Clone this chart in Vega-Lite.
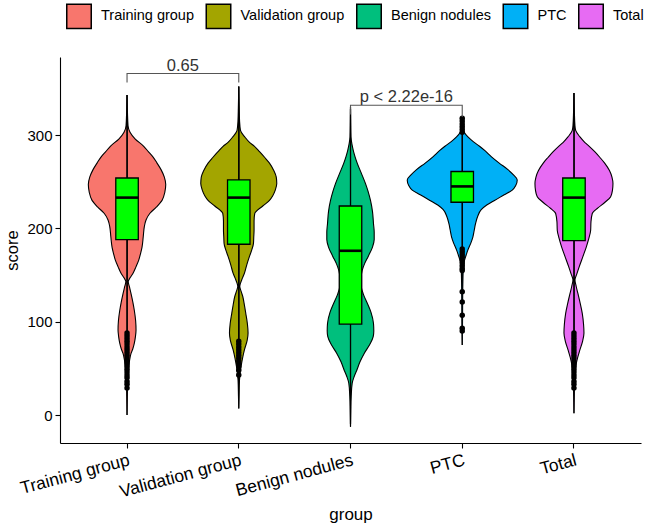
{
  "$schema": "https://vega.github.io/schema/vega-lite/v6.json",
  "width": 581,
  "height": 386,
  "autosize": {"type": "none"},
  "padding": {"left": 60, "top": 57, "right": 5, "bottom": 85},
  "background": "white",
  "datasets": {
    "violin": [
      {"group": "Training group", "score": 343, "density": 0},
      {"group": "Training group", "score": 325, "density": 0.00012},
      {"group": "Training group", "score": 310, "density": 0.0003},
      {"group": "Training group", "score": 303, "density": 0.0009},
      {"group": "Training group", "score": 296, "density": 0.0024},
      {"group": "Training group", "score": 288, "density": 0.00501},
      {"group": "Training group", "score": 282, "density": 0.00645},
      {"group": "Training group", "score": 277, "density": 0.00771},
      {"group": "Training group", "score": 270, "density": 0.009},
      {"group": "Training group", "score": 263, "density": 0.0102},
      {"group": "Training group", "score": 255, "density": 0.01119},
      {"group": "Training group", "score": 247, "density": 0.01161},
      {"group": "Training group", "score": 239, "density": 0.01134},
      {"group": "Training group", "score": 230, "density": 0.0105},
      {"group": "Training group", "score": 223, "density": 0.00885},
      {"group": "Training group", "score": 216, "density": 0.00681},
      {"group": "Training group", "score": 209, "density": 0.0057},
      {"group": "Training group", "score": 202, "density": 0.00519},
      {"group": "Training group", "score": 191, "density": 0.00486},
      {"group": "Training group", "score": 180, "density": 0.0045},
      {"group": "Training group", "score": 173, "density": 0.00405},
      {"group": "Training group", "score": 166, "density": 0.00351},
      {"group": "Training group", "score": 159, "density": 0.0027},
      {"group": "Training group", "score": 152, "density": 0.0018},
      {"group": "Training group", "score": 147, "density": 0.0009},
      {"group": "Training group", "score": 143, "density": 0.00036},
      {"group": "Training group", "score": 137, "density": 0.00075},
      {"group": "Training group", "score": 130, "density": 0.0012},
      {"group": "Training group", "score": 121, "density": 0.00174},
      {"group": "Training group", "score": 112, "density": 0.00219},
      {"group": "Training group", "score": 101, "density": 0.00258},
      {"group": "Training group", "score": 91, "density": 0.0027},
      {"group": "Training group", "score": 84, "density": 0.00252},
      {"group": "Training group", "score": 77, "density": 0.00219},
      {"group": "Training group", "score": 71, "density": 0.00174},
      {"group": "Training group", "score": 66, "density": 0.0012},
      {"group": "Training group", "score": 59, "density": 0.00078},
      {"group": "Training group", "score": 52, "density": 0.00051},
      {"group": "Training group", "score": 45, "density": 0.00033},
      {"group": "Training group", "score": 37, "density": 0.00021},
      {"group": "Training group", "score": 20, "density": 0.00009},
      {"group": "Training group", "score": 0, "density": 0},

      {"group": "Validation group", "score": 352, "density": 0},
      {"group": "Validation group", "score": 330, "density": 0.00012},
      {"group": "Validation group", "score": 315, "density": 0.00024},
      {"group": "Validation group", "score": 305, "density": 0.00051},
      {"group": "Validation group", "score": 298, "density": 0.0018},
      {"group": "Validation group", "score": 292, "density": 0.0033},
      {"group": "Validation group", "score": 288, "density": 0.00471},
      {"group": "Validation group", "score": 282, "density": 0.0063},
      {"group": "Validation group", "score": 276, "density": 0.0078},
      {"group": "Validation group", "score": 270, "density": 0.00921},
      {"group": "Validation group", "score": 262, "density": 0.0105},
      {"group": "Validation group", "score": 255, "density": 0.01125},
      {"group": "Validation group", "score": 248, "density": 0.0114},
      {"group": "Validation group", "score": 241, "density": 0.01095},
      {"group": "Validation group", "score": 235, "density": 0.0102},
      {"group": "Validation group", "score": 230, "density": 0.00921},
      {"group": "Validation group", "score": 224, "density": 0.0072},
      {"group": "Validation group", "score": 216, "density": 0.0048},
      {"group": "Validation group", "score": 208, "density": 0.00459},
      {"group": "Validation group", "score": 198, "density": 0.00459},
      {"group": "Validation group", "score": 191, "density": 0.0045},
      {"group": "Validation group", "score": 184, "density": 0.00441},
      {"group": "Validation group", "score": 177, "density": 0.0039},
      {"group": "Validation group", "score": 170, "density": 0.00321},
      {"group": "Validation group", "score": 161, "density": 0.0024},
      {"group": "Validation group", "score": 152, "density": 0.00171},
      {"group": "Validation group", "score": 145, "density": 0.0009},
      {"group": "Validation group", "score": 138, "density": 0.0003},
      {"group": "Validation group", "score": 133, "density": 0.00066},
      {"group": "Validation group", "score": 127, "density": 0.0012},
      {"group": "Validation group", "score": 118, "density": 0.00168},
      {"group": "Validation group", "score": 109, "density": 0.0021},
      {"group": "Validation group", "score": 98, "density": 0.00258},
      {"group": "Validation group", "score": 88, "density": 0.00279},
      {"group": "Validation group", "score": 80, "density": 0.00252},
      {"group": "Validation group", "score": 70, "density": 0.00171},
      {"group": "Validation group", "score": 61, "density": 0.00114},
      {"group": "Validation group", "score": 52, "density": 0.00069},
      {"group": "Validation group", "score": 45, "density": 0.00042},
      {"group": "Validation group", "score": 37, "density": 0.00021},
      {"group": "Validation group", "score": 20, "density": 0.00009},
      {"group": "Validation group", "score": 7, "density": 0},

      {"group": "Benign nodules", "score": 330, "density": 0},
      {"group": "Benign nodules", "score": 315, "density": 0.00006},
      {"group": "Benign nodules", "score": 298, "density": 0.00015},
      {"group": "Benign nodules", "score": 290, "density": 0.00045},
      {"group": "Benign nodules", "score": 284, "density": 0.00081},
      {"group": "Benign nodules", "score": 277, "density": 0.00135},
      {"group": "Benign nodules", "score": 270, "density": 0.00201},
      {"group": "Benign nodules", "score": 260, "density": 0.00315},
      {"group": "Benign nodules", "score": 248, "density": 0.0045},
      {"group": "Benign nodules", "score": 240, "density": 0.00525},
      {"group": "Benign nodules", "score": 230, "density": 0.006},
      {"group": "Benign nodules", "score": 218, "density": 0.0066},
      {"group": "Benign nodules", "score": 205, "density": 0.0069},
      {"group": "Benign nodules", "score": 196, "density": 0.00711},
      {"group": "Benign nodules", "score": 188, "density": 0.00711},
      {"group": "Benign nodules", "score": 180, "density": 0.0066},
      {"group": "Benign nodules", "score": 170, "density": 0.00531},
      {"group": "Benign nodules", "score": 162, "density": 0.0042},
      {"group": "Benign nodules", "score": 155, "density": 0.00351},
      {"group": "Benign nodules", "score": 146, "density": 0.00315},
      {"group": "Benign nodules", "score": 138, "density": 0.00321},
      {"group": "Benign nodules", "score": 129, "density": 0.0039},
      {"group": "Benign nodules", "score": 120, "density": 0.00501},
      {"group": "Benign nodules", "score": 110, "density": 0.00615},
      {"group": "Benign nodules", "score": 98, "density": 0.0069},
      {"group": "Benign nodules", "score": 90, "density": 0.00699},
      {"group": "Benign nodules", "score": 84, "density": 0.00681},
      {"group": "Benign nodules", "score": 76, "density": 0.00585},
      {"group": "Benign nodules", "score": 66, "density": 0.00411},
      {"group": "Benign nodules", "score": 57, "density": 0.00285},
      {"group": "Benign nodules", "score": 48, "density": 0.00189},
      {"group": "Benign nodules", "score": 41, "density": 0.00108},
      {"group": "Benign nodules", "score": 34, "density": 0.00051},
      {"group": "Benign nodules", "score": 20, "density": 0.00021},
      {"group": "Benign nodules", "score": 5, "density": 0.00009},
      {"group": "Benign nodules", "score": -12.5, "density": 0},

      {"group": "PTC", "score": 320, "density": 0},
      {"group": "PTC", "score": 309, "density": 0.00015},
      {"group": "PTC", "score": 303, "density": 0.0006},
      {"group": "PTC", "score": 298, "density": 0.00171},
      {"group": "PTC", "score": 293, "density": 0.0033},
      {"group": "PTC", "score": 288, "density": 0.00519},
      {"group": "PTC", "score": 283, "density": 0.0069},
      {"group": "PTC", "score": 277, "density": 0.0087},
      {"group": "PTC", "score": 270, "density": 0.0111},
      {"group": "PTC", "score": 263, "density": 0.01371},
      {"group": "PTC", "score": 257, "density": 0.01545},
      {"group": "PTC", "score": 252, "density": 0.0165},
      {"group": "PTC", "score": 246, "density": 0.01605},
      {"group": "PTC", "score": 241, "density": 0.015},
      {"group": "PTC", "score": 236, "density": 0.0126},
      {"group": "PTC", "score": 230, "density": 0.00969},
      {"group": "PTC", "score": 225, "density": 0.00735},
      {"group": "PTC", "score": 220, "density": 0.0057},
      {"group": "PTC", "score": 213, "density": 0.00465},
      {"group": "PTC", "score": 205, "density": 0.00399},
      {"group": "PTC", "score": 198, "density": 0.0036},
      {"group": "PTC", "score": 191, "density": 0.00321},
      {"group": "PTC", "score": 184, "density": 0.00255},
      {"group": "PTC", "score": 177, "density": 0.00171},
      {"group": "PTC", "score": 171, "density": 0.00114},
      {"group": "PTC", "score": 166, "density": 0.00069},
      {"group": "PTC", "score": 160, "density": 0.00042},
      {"group": "PTC", "score": 155, "density": 0.0003},
      {"group": "PTC", "score": 140, "density": 0.00018},
      {"group": "PTC", "score": 120, "density": 0.00012},
      {"group": "PTC", "score": 100, "density": 0.00009},
      {"group": "PTC", "score": 75, "density": 0},

      {"group": "Total", "score": 345, "density": 0},
      {"group": "Total", "score": 325, "density": 0.00012},
      {"group": "Total", "score": 310, "density": 0.0003},
      {"group": "Total", "score": 305, "density": 0.00051},
      {"group": "Total", "score": 298, "density": 0.0018},
      {"group": "Total", "score": 292, "density": 0.0033},
      {"group": "Total", "score": 288, "density": 0.00459},
      {"group": "Total", "score": 282, "density": 0.0063},
      {"group": "Total", "score": 276, "density": 0.0078},
      {"group": "Total", "score": 270, "density": 0.00921},
      {"group": "Total", "score": 262, "density": 0.01065},
      {"group": "Total", "score": 255, "density": 0.0114},
      {"group": "Total", "score": 248, "density": 0.0117},
      {"group": "Total", "score": 241, "density": 0.01155},
      {"group": "Total", "score": 234, "density": 0.01101},
      {"group": "Total", "score": 228, "density": 0.0093},
      {"group": "Total", "score": 222, "density": 0.0072},
      {"group": "Total", "score": 216, "density": 0.00549},
      {"group": "Total", "score": 207, "density": 0.0051},
      {"group": "Total", "score": 198, "density": 0.00501},
      {"group": "Total", "score": 189, "density": 0.00444},
      {"group": "Total", "score": 180, "density": 0.00369},
      {"group": "Total", "score": 170, "density": 0.0027},
      {"group": "Total", "score": 159, "density": 0.00159},
      {"group": "Total", "score": 151, "density": 0.00084},
      {"group": "Total", "score": 145, "density": 0.0003},
      {"group": "Total", "score": 138, "density": 0.00066},
      {"group": "Total", "score": 130, "density": 0.0012},
      {"group": "Total", "score": 120, "density": 0.00186},
      {"group": "Total", "score": 109, "density": 0.00249},
      {"group": "Total", "score": 97, "density": 0.00288},
      {"group": "Total", "score": 88, "density": 0.003},
      {"group": "Total", "score": 79, "density": 0.00258},
      {"group": "Total", "score": 70, "density": 0.0018},
      {"group": "Total", "score": 62, "density": 0.00114},
      {"group": "Total", "score": 55, "density": 0.00069},
      {"group": "Total", "score": 46, "density": 0.00039},
      {"group": "Total", "score": 37, "density": 0.00021},
      {"group": "Total", "score": 20, "density": 0.00009},
      {"group": "Total", "score": 2, "density": 0}
    ],
    "boxes": [
      {"group": "Training group", "lo": 90, "q1": 188, "median": 233, "q3": 254, "hi": 343},
      {"group": "Validation group", "lo": 80, "q1": 183, "median": 233, "q3": 252, "hi": 352},
      {"group": "Benign nodules", "lo": -10, "q1": 97.5, "median": 176, "q3": 224, "hi": 328},
      {"group": "PTC", "lo": 178, "q1": 228, "median": 245, "q3": 261, "hi": 302},
      {"group": "Total", "lo": 90, "q1": 187, "median": 233, "q3": 254, "hi": 345}
    ],
    "outliers": [
      {"group": "Training group", "score": 88}, {"group": "Training group", "score": 85},
      {"group": "Training group", "score": 82}, {"group": "Training group", "score": 79},
      {"group": "Training group", "score": 76}, {"group": "Training group", "score": 73},
      {"group": "Training group", "score": 70}, {"group": "Training group", "score": 67},
      {"group": "Training group", "score": 64}, {"group": "Training group", "score": 61},
      {"group": "Training group", "score": 58}, {"group": "Training group", "score": 55},
      {"group": "Training group", "score": 52}, {"group": "Training group", "score": 49},
      {"group": "Training group", "score": 46}, {"group": "Training group", "score": 43},
      {"group": "Training group", "score": 40}, {"group": "Training group", "score": 36},
      {"group": "Training group", "score": 33}, {"group": "Training group", "score": 29},
      {"group": "Validation group", "score": 79}, {"group": "Validation group", "score": 76},
      {"group": "Validation group", "score": 73}, {"group": "Validation group", "score": 70},
      {"group": "Validation group", "score": 67}, {"group": "Validation group", "score": 64},
      {"group": "Validation group", "score": 61}, {"group": "Validation group", "score": 58},
      {"group": "Validation group", "score": 55}, {"group": "Validation group", "score": 52},
      {"group": "Validation group", "score": 48}, {"group": "Validation group", "score": 43},
      {"group": "PTC", "score": 318}, {"group": "PTC", "score": 315}, {"group": "PTC", "score": 312},
      {"group": "PTC", "score": 309}, {"group": "PTC", "score": 306}, {"group": "PTC", "score": 303},
      {"group": "PTC", "score": 178}, {"group": "PTC", "score": 175}, {"group": "PTC", "score": 172},
      {"group": "PTC", "score": 169}, {"group": "PTC", "score": 166}, {"group": "PTC", "score": 163},
      {"group": "PTC", "score": 160}, {"group": "PTC", "score": 157}, {"group": "PTC", "score": 155},
      {"group": "PTC", "score": 132}, {"group": "PTC", "score": 121}, {"group": "PTC", "score": 107},
      {"group": "PTC", "score": 93}, {"group": "PTC", "score": 90},
      {"group": "Total", "score": 88}, {"group": "Total", "score": 85}, {"group": "Total", "score": 82},
      {"group": "Total", "score": 79}, {"group": "Total", "score": 76}, {"group": "Total", "score": 73},
      {"group": "Total", "score": 70}, {"group": "Total", "score": 67}, {"group": "Total", "score": 64},
      {"group": "Total", "score": 61}, {"group": "Total", "score": 58}, {"group": "Total", "score": 55},
      {"group": "Total", "score": 52}, {"group": "Total", "score": 49}, {"group": "Total", "score": 46},
      {"group": "Total", "score": 43}, {"group": "Total", "score": 40}, {"group": "Total", "score": 36},
      {"group": "Total", "score": 33}, {"group": "Total", "score": 29}
    ],
    "brackets": [
      {"bracket": "a", "step": 1, "group": "Training group", "score": 356.5},
      {"bracket": "a", "step": 2, "group": "Training group", "score": 366},
      {"bracket": "a", "step": 3, "group": "Validation group", "score": 366},
      {"bracket": "a", "step": 4, "group": "Validation group", "score": 356.5},
      {"bracket": "b", "step": 1, "group": "Benign nodules", "score": 322},
      {"bracket": "b", "step": 2, "group": "Benign nodules", "score": 332},
      {"bracket": "b", "step": 3, "group": "PTC", "score": 332},
      {"bracket": "b", "step": 4, "group": "PTC", "score": 319.5}
    ],
    "pvalues": [
      {"group": "Validation group", "score": 368.5, "label": "0.65"},
      {"group": "PTC", "score": 335.5, "label": "p < 2.22e-16"}
    ]
  },
  "layer": [
    {
      "description": "Training group, right half of the violin",
      "data": {"name": "violin"},
      "transform": [{"filter": "datum.group === 'Training group'"}],
      "mark": {"type": "area", "orient": "horizontal", "interpolate": "monotone", "stroke": "black", "strokeWidth": 1.1},
      "encoding": {
        "x": {"field": "density", "type": "quantitative", "stack": null, "axis": null,
              "scale": {"domain": [-0.0201115, 0.1541885], "nice": false, "zero": false}},
        "x2": {"datum": 0},
        "y": {"field": "score", "type": "quantitative", "title": "score",
              "scale": {"domain": [-30, 383.7], "nice": false, "zero": false},
              "axis": {"values": [0, 100, 200, 300], "tickSize": 5, "labelPadding": 3, "titlePadding": 6}},
        "color": {
          "field": "group", "type": "nominal", "title": null,
          "scale": {
            "domain": ["Training group", "Validation group", "Benign nodules", "PTC", "Total"],
            "range": ["#F8766D", "#A3A500", "#00BF7D", "#00B0F6", "#E76BF3"]
          },
          "legend": {
            "orient": "none",
            "legendX": 6,
            "legendY": -54,
            "direction": "horizontal",
            "columns": 5,
            "symbolType": "square",
            "symbolSize": 600,
            "symbolOpacity": 1,
            "labelFontSize": 14.5,
            "labelColor": "black",
            "labelFont": "Liberation Sans",
            "labelOffset": 9,
            "columnPadding": 8.5,
            "padding": 0,
            "encode": {"symbols": {"update": {"stroke": {"value": "black"}, "strokeWidth": {"value": 1.3}}}}
          }
        }
      }
    },
    {
      "description": "Training group, left half of the violin",
      "data": {"name": "violin"},
      "transform": [{"filter": "datum.group === 'Training group'"}],
      "mark": {"type": "area", "orient": "horizontal", "interpolate": "monotone", "stroke": "black", "strokeWidth": 1.1},
      "encoding": {
        "x": {"field": "density", "type": "quantitative", "stack": null, "axis": null,
              "scale": {"domain": [-0.1541885, 0.0201115], "nice": false, "zero": false, "reverse": true}},
        "x2": {"datum": 0},
        "y": {"field": "score", "type": "quantitative", "title": "score"},
        "color": {"field": "group", "type": "nominal", "title": null}
      }
    },
    {
      "description": "Validation group, right half",
      "data": {"name": "violin"},
      "transform": [{"filter": "datum.group === 'Validation group'"}],
      "mark": {"type": "area", "orient": "horizontal", "interpolate": "monotone", "stroke": "black", "strokeWidth": 1.1},
      "encoding": {
        "x": {"field": "density", "type": "quantitative", "stack": null, "axis": null,
              "scale": {"domain": [-0.0536308, 0.1206692], "nice": false, "zero": false}},
        "x2": {"datum": 0},
        "y": {"field": "score", "type": "quantitative", "title": "score"},
        "color": {"field": "group", "type": "nominal", "title": null}
      }
    },
    {
      "description": "Validation group, left half",
      "data": {"name": "violin"},
      "transform": [{"filter": "datum.group === 'Validation group'"}],
      "mark": {"type": "area", "orient": "horizontal", "interpolate": "monotone", "stroke": "black", "strokeWidth": 1.1},
      "encoding": {
        "x": {"field": "density", "type": "quantitative", "stack": null, "axis": null,
              "scale": {"domain": [-0.1206692, 0.0536308], "nice": false, "zero": false, "reverse": true}},
        "x2": {"datum": 0},
        "y": {"field": "score", "type": "quantitative", "title": "score"},
        "color": {"field": "group", "type": "nominal", "title": null}
      }
    },
    {
      "description": "Benign nodules, right half",
      "data": {"name": "violin"},
      "transform": [{"filter": "datum.group === 'Benign nodules'"}],
      "mark": {"type": "area", "orient": "horizontal", "interpolate": "monotone", "stroke": "black", "strokeWidth": 1.1},
      "encoding": {
        "x": {"field": "density", "type": "quantitative", "stack": null, "axis": null,
              "scale": {"domain": [-0.08715, 0.08715], "nice": false, "zero": false}},
        "x2": {"datum": 0},
        "y": {"field": "score", "type": "quantitative", "title": "score"},
        "color": {"field": "group", "type": "nominal", "title": null}
      }
    },
    {
      "description": "Benign nodules, left half",
      "data": {"name": "violin"},
      "transform": [{"filter": "datum.group === 'Benign nodules'"}],
      "mark": {"type": "area", "orient": "horizontal", "interpolate": "monotone", "stroke": "black", "strokeWidth": 1.1},
      "encoding": {
        "x": {"field": "density", "type": "quantitative", "stack": null, "axis": null,
              "scale": {"domain": [-0.08715, 0.08715], "nice": false, "zero": false, "reverse": true}},
        "x2": {"datum": 0},
        "y": {"field": "score", "type": "quantitative", "title": "score"},
        "color": {"field": "group", "type": "nominal", "title": null}
      }
    },
    {
      "description": "PTC, right half",
      "data": {"name": "violin"},
      "transform": [{"filter": "datum.group === 'PTC'"}],
      "mark": {"type": "area", "orient": "horizontal", "interpolate": "monotone", "stroke": "black", "strokeWidth": 1.1},
      "encoding": {
        "x": {"field": "density", "type": "quantitative", "stack": null, "axis": null,
              "scale": {"domain": [-0.1206692, 0.0536308], "nice": false, "zero": false}},
        "x2": {"datum": 0},
        "y": {"field": "score", "type": "quantitative", "title": "score"},
        "color": {"field": "group", "type": "nominal", "title": null}
      }
    },
    {
      "description": "PTC, left half",
      "data": {"name": "violin"},
      "transform": [{"filter": "datum.group === 'PTC'"}],
      "mark": {"type": "area", "orient": "horizontal", "interpolate": "monotone", "stroke": "black", "strokeWidth": 1.1},
      "encoding": {
        "x": {"field": "density", "type": "quantitative", "stack": null, "axis": null,
              "scale": {"domain": [-0.0536308, 0.1206692], "nice": false, "zero": false, "reverse": true}},
        "x2": {"datum": 0},
        "y": {"field": "score", "type": "quantitative", "title": "score"},
        "color": {"field": "group", "type": "nominal", "title": null}
      }
    },
    {
      "description": "Total, right half",
      "data": {"name": "violin"},
      "transform": [{"filter": "datum.group === 'Total'"}],
      "mark": {"type": "area", "orient": "horizontal", "interpolate": "monotone", "stroke": "black", "strokeWidth": 1.1},
      "encoding": {
        "x": {"field": "density", "type": "quantitative", "stack": null, "axis": null,
              "scale": {"domain": [-0.1541885, 0.0201115], "nice": false, "zero": false}},
        "x2": {"datum": 0},
        "y": {"field": "score", "type": "quantitative", "title": "score"},
        "color": {"field": "group", "type": "nominal", "title": null}
      }
    },
    {
      "description": "Total, left half",
      "data": {"name": "violin"},
      "transform": [{"filter": "datum.group === 'Total'"}],
      "mark": {"type": "area", "orient": "horizontal", "interpolate": "monotone", "stroke": "black", "strokeWidth": 1.1},
      "encoding": {
        "x": {"field": "density", "type": "quantitative", "stack": null, "axis": null,
              "scale": {"domain": [-0.0201115, 0.1541885], "nice": false, "zero": false, "reverse": true}},
        "x2": {"datum": 0},
        "y": {"field": "score", "type": "quantitative", "title": "score"},
        "color": {"field": "group", "type": "nominal", "title": null}
      }
    },
    {
      "description": "Boxplots, outliers and significance brackets on the group axis",
      "encoding": {
        "x": {
          "field": "group",
          "type": "nominal",
          "title": "group",
          "scale": {
            "type": "band",
            "domain": ["Training group", "Validation group", "Benign nodules", "PTC", "Total"],
            "paddingInner": 0,
            "paddingOuter": 0.1
          },
          "axis": {
            "orient": "bottom",
            "labelAngle": -15,
            "labelAlign": "right",
            "labelBaseline": "top",
            "labelPadding": 3,
            "labelFontSize": 17.5,
            "labelOverlap": false,
            "tickSize": 5,
            "titleFontSize": 17,
            "titlePadding": 6
          }
        }
      },
      "layer": [
        {
          "data": {"name": "boxes"},
          "mark": {"type": "rule", "color": "black", "strokeWidth": 1.2},
          "encoding": {
            "y": {"field": "lo", "type": "quantitative", "title": "score"},
            "y2": {"field": "hi"}
          }
        },
        {
          "data": {"name": "boxes"},
          "mark": {"type": "bar", "width": 22.5, "fill": "#00FF00", "stroke": "black", "strokeWidth": 1.3},
          "encoding": {
            "y": {"field": "q1", "type": "quantitative", "title": "score"},
            "y2": {"field": "q3"}
          }
        },
        {
          "data": {"name": "boxes"},
          "mark": {"type": "tick", "size": 22.5, "thickness": 2.6, "color": "black", "opacity": 1},
          "encoding": {
            "y": {"field": "median", "type": "quantitative", "title": "score"}
          }
        },
        {
          "data": {"name": "outliers"},
          "mark": {"type": "circle", "size": 30, "color": "black", "opacity": 1},
          "encoding": {
            "y": {"field": "score", "type": "quantitative", "title": "score"}
          }
        },
        {
          "data": {"name": "brackets"},
          "mark": {"type": "line", "color": "#555555", "strokeWidth": 1.1},
          "encoding": {
            "y": {"field": "score", "type": "quantitative", "title": "score"},
            "detail": {"field": "bracket"},
            "order": {"field": "step", "type": "quantitative"}
          }
        },
        {
          "data": {"name": "pvalues"},
          "mark": {"type": "text", "fontSize": 16.5, "color": "#333333", "font": "Liberation Sans", "align": "center", "baseline": "alphabetic"},
          "encoding": {
            "x": {"field": "group", "type": "nominal", "bandPosition": 0},
            "y": {"field": "score", "type": "quantitative", "title": "score"},
            "text": {"field": "label"}
          }
        }
      ]
    }
  ],
  "resolve": {"scale": {"x": "independent"}, "axis": {"x": "independent"}},
  "config": {
    "view": {"stroke": null},
    "font": "Liberation Sans",
    "axis": {
      "grid": false,
      "domainColor": "black",
      "domainWidth": 1.1,
      "tickColor": "black",
      "tickWidth": 1.1,
      "labelColor": "black",
      "labelFont": "Liberation Sans",
      "labelFontSize": 15,
      "titleColor": "black",
      "titleFont": "Liberation Sans",
      "titleFontSize": 16.5,
      "titleFontWeight": "normal"
    }
  }
}
